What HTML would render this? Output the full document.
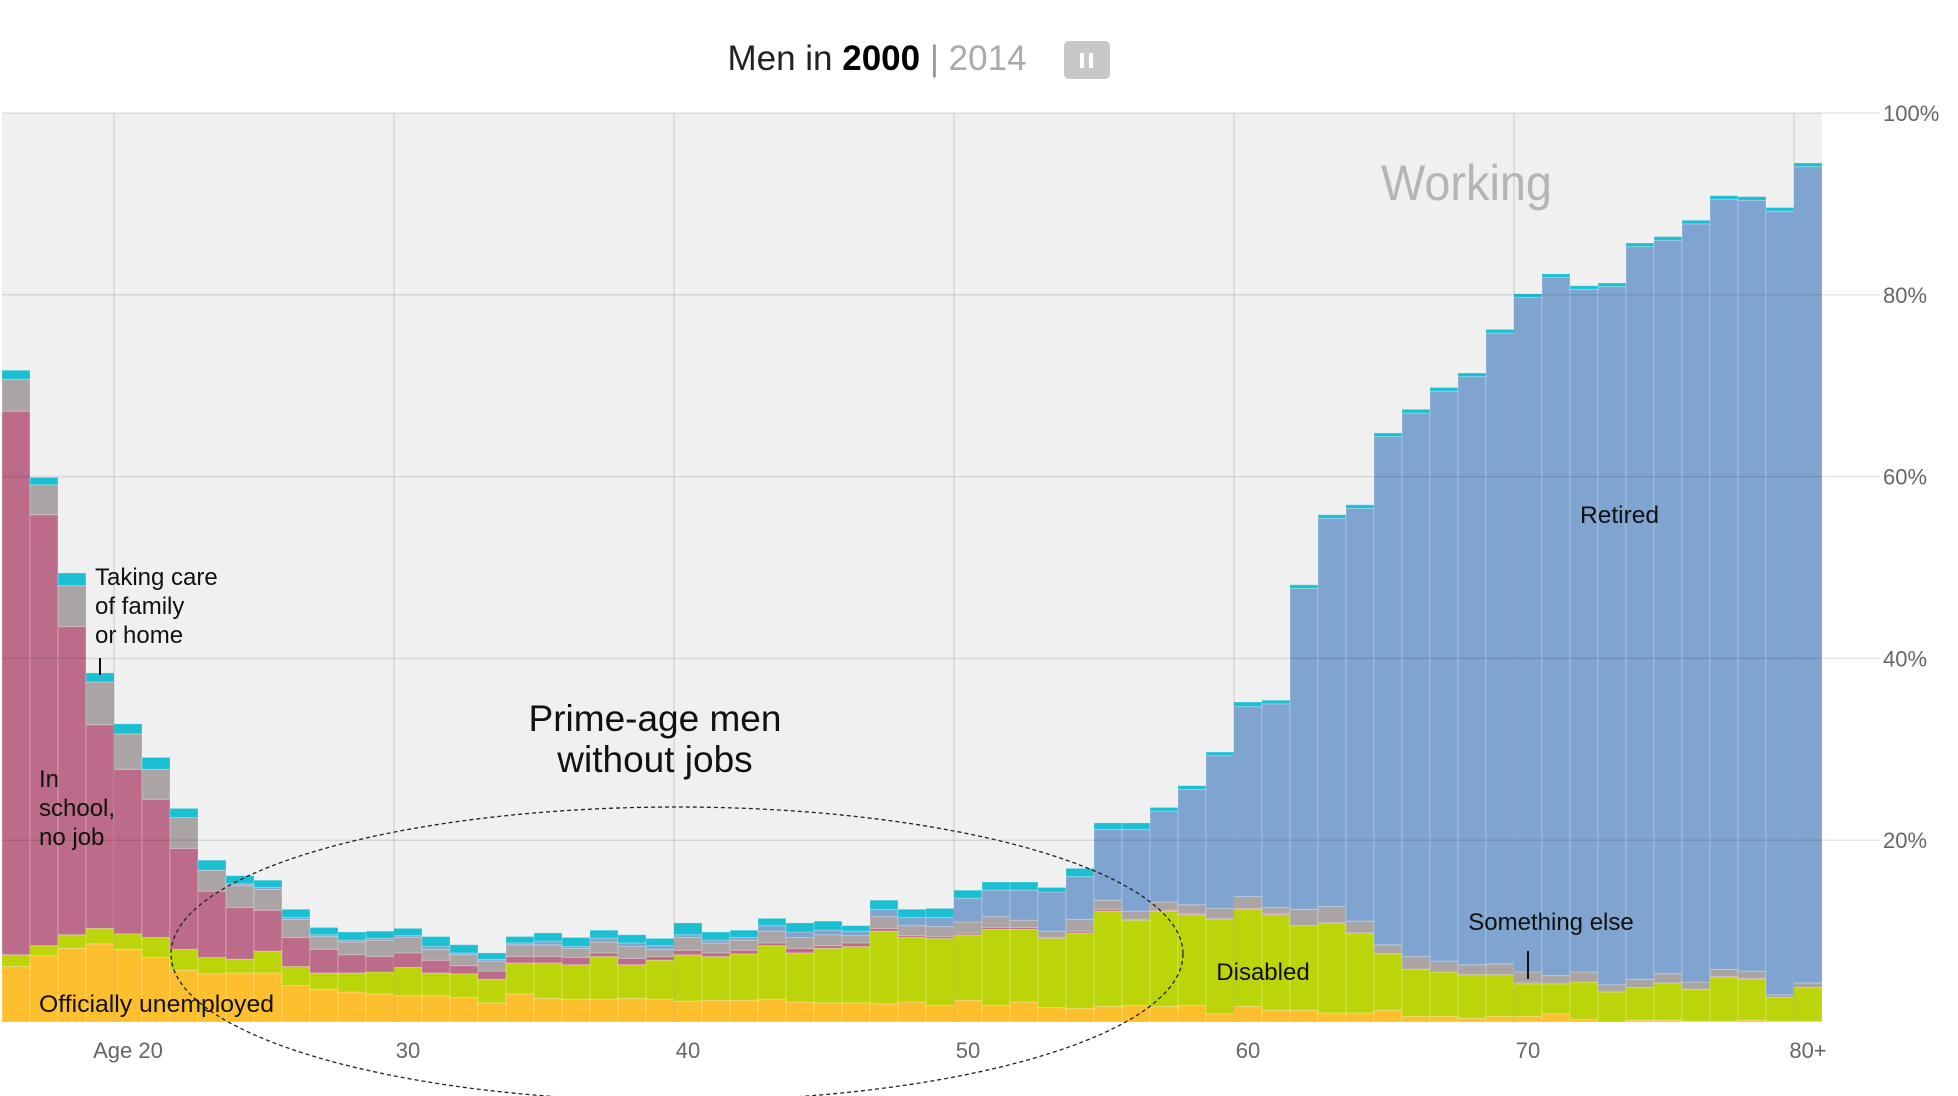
<!DOCTYPE html>
<html><head><meta charset="utf-8"><style>
html,body{margin:0;padding:0;background:#fff;}
svg{display:block;font-family:"Liberation Sans",sans-serif;}
</style></head><body>
<svg id="chart" width="1958" height="1096"></svg>
<script>
const ages=[16,17,18,19,20,21,22,23,24,25,26,27,28,29,30,31,32,33,34,35,36,37,38,39,40,41,42,43,44,45,46,47,48,49,50,51,52,53,54,55,56,57,58,59,60,61,62,63,64,65,66,67,68,69,70,71,72,73,74,75,76,77,78,79,80];
const unemployed=[6.1,7.3,8.1,8.6,8.0,7.1,5.7,5.3,5.4,5.4,4.0,3.6,3.3,3.1,2.9,2.9,2.7,2.1,3.1,2.6,2.5,2.5,2.6,2.5,2.3,2.4,2.4,2.5,2.2,2.1,2.1,2.0,2.2,1.8,2.4,1.8,2.2,1.6,1.5,1.7,1.8,1.7,1.8,0.9,1.7,1.3,1.3,1.0,1.0,1.3,0.6,0.6,0.4,0.6,0.6,0.9,0.3,0,0.2,0.2,0.1,0.1,0.2,0.1,0.1];
const disabled=[1.3,1.1,1.5,1.7,1.7,2.2,2.3,1.8,1.5,2.4,2.1,1.8,2.1,2.4,3.1,2.5,2.6,2.6,3.4,3.9,3.8,4.7,3.7,4.3,5.1,4.8,5.1,5.9,5.4,6.0,6.2,8.0,7.1,7.4,7.2,8.4,8.0,7.6,8.3,10.5,9.4,10.5,10.0,10.4,10.7,10.5,9.3,9.9,8.8,6.2,5.2,4.9,4.8,4.6,3.6,3.3,4.1,3.3,3.6,4.1,3.5,4.8,4.5,2.6,3.7];
const school=[59.8,47.4,33.9,22.4,18.1,15.2,11.1,7.3,5.7,4.5,3.2,2.6,2.0,1.7,1.6,1.4,0.9,0.9,0.7,0.7,0.8,0.4,0.7,0.4,0.5,0.4,0.4,0.3,0.5,0.3,0.4,0.3,0.2,0.2,0.2,0.2,0.2,0.1,0.2,0.2,0.1,0.1,0.1,0.1,0.1,0.1,0,0,0,0,0,0,0,0,0.1,0,0,0.1,0,0,0,0.1,0.1,0,0];
const somethingElse=[3.5,3.3,4.5,4.7,3.9,3.3,3.4,2.3,2.4,2.3,2.0,1.4,1.4,1.8,1.7,1.2,1.2,1.1,1.3,1.3,1.0,1.2,1.3,0.8,1.4,1.1,1.1,1.3,1.2,1.2,0.8,1.3,1.1,1.1,1.2,1.2,0.8,0.7,1.3,1.0,0.9,0.9,1.0,1.1,1.3,0.7,1.8,1.8,1.3,1.0,1.4,1.2,1.1,1.2,1.2,0.9,1.1,0.7,0.9,1.0,0.8,0.8,0.8,0.3,0.5];
const retired=[0,0,0,0,0,0,0,0,0.2,0.2,0.2,0.2,0.2,0.2,0.2,0.3,0.2,0.2,0.2,0.4,0.2,0.4,0.4,0.4,0.3,0.3,0.3,0.6,0.6,0.5,0.5,0.8,0.9,1.0,2.6,2.9,3.3,4.3,4.7,7.8,9.0,10.0,12.7,16.8,20.9,22.4,35.3,42.7,45.4,55.9,59.8,62.7,64.7,69.4,74.2,76.8,75.1,76.8,80.6,80.7,83.4,84.7,84.8,86.2,89.8];
const takingCare=[1.0,0.8,1.4,1.0,1.1,1.3,1.0,1.1,0.9,0.8,0.9,0.8,0.9,0.8,0.8,1.1,0.9,0.7,0.7,0.9,1.0,0.9,0.9,0.8,1.3,0.9,0.8,0.8,1.0,1.0,0.6,1.0,0.9,1.0,0.9,0.9,0.9,0.5,0.9,0.7,0.7,0.4,0.4,0.4,0.5,0.4,0.4,0.4,0.4,0.4,0.4,0.4,0.4,0.4,0.4,0.4,0.4,0.4,0.4,0.4,0.4,0.4,0.4,0.4,0.4];
const yTicks=[20,40,60,80,100];
const yTickLabels=["20%","40%","60%","80%","100%"];
const xTickAges=[20,30,40,50,60,70,80];
const xTickLabels=["Age 20","30","40","50","60","70","80+"];

const NS="http://www.w3.org/2000/svg";
const svg=document.getElementById('chart');
const L=2,R=1822,T=113,B=1022;
const bw=(R-L)/ages.length;
function x(age){return L+(age-ages[0])*bw;}
function y(p){return B-(B-T)*p/100;}
function mk(tag,attrs,parent){const e=document.createElementNS(NS,tag);for(const k in attrs)e.setAttribute(k,attrs[k]);(parent||svg).appendChild(e);return e;}

const bg=mk('rect',{x:L,y:T,width:R-L,height:B-T,fill:'#f0f0f0'});



const series=[
 {name:'unemployed',vals:unemployed,color:'#fdbf2d'},
 {name:'disabled',vals:disabled,color:'#bcd40a'},
 {name:'in-school',vals:school,color:'#bd6b8a'},
 {name:'something-else',vals:somethingElse,color:'#aaa5a4'},
 {name:'retired',vals:retired,color:'#7fa4cf'},
 {name:'taking-care',vals:takingCare,color:'#1bbfd2'}
];
const gBars=mk('g',{});


ages.forEach((a,i)=>{
  let cum=0;
  series.forEach(s=>{
    const v=s.vals[i];
    if(v<=0){return;}
    const r=mk('rect',{x:x(a),y:y(cum+v),width:bw,height:y(cum)-y(cum+v),fill:s.color,stroke:'rgba(255,255,255,0.25)','stroke-width':1},gBars);
    
    
    cum+=v;
  });
});

yTicks.forEach((t,i)=>{
  const ln=mk('line',{x1:L,x2:1880,y1:y(t),y2:y(t),stroke:'rgba(0,0,0,0.1)','stroke-width':1.5});
  
  
  const tx=mk('text',{x:1883,y:y(t)+8,'font-size':22,fill:'#666'});
  tx.textContent=yTickLabels[i];
  
  
});
xTickAges.forEach((a,i)=>{
  const ln=mk('line',{x1:x(a),x2:x(a),y1:T,y2:B,stroke:'rgba(0,0,0,0.1)','stroke-width':1.5});
  
  
  const tx=mk('text',{x:x(a)+bw/2,y:1058,'font-size':22,fill:'#666','text-anchor':'middle'});
  tx.textContent=xTickLabels[i];
  
  
});
</script>
<svg style="position:absolute;left:0;top:0" width="1958" height="1096">
 <g font-family="Liberation Sans, sans-serif">
  <text x="877" y="70" font-size="35" text-anchor="middle" fill="#222">Men in <tspan font-weight="bold" fill="#000">2000</tspan><tspan fill="#999"> | </tspan><tspan fill="#aaa">2014</tspan></text>
  <g>
   <rect x="1064" y="41" width="46" height="38" rx="5" fill="#c8c8c8"/>
   <rect x="1080" y="53" width="4" height="15" fill="#fff"/>
   <rect x="1089" y="53" width="4" height="15" fill="#fff"/>
  </g>
  <text x="1381" y="200" font-size="50" fill="#b5b5b5" textLength="171" lengthAdjust="spacingAndGlyphs">Working</text>
  <text x="1580" y="523" font-size="24" fill="#111" textLength="79" lengthAdjust="spacingAndGlyphs">Retired</text>
  <text font-size="24" fill="#111"><tspan x="95" y="585">Taking care</tspan><tspan x="95" y="614">of family</tspan><tspan x="95" y="643">or home</tspan></text>
  <line x1="100" y1="658" x2="100" y2="675" stroke="#111" stroke-width="2"/>
  <text font-size="24" fill="#111"><tspan x="39" y="787">In</tspan><tspan x="39" y="816">school,</tspan><tspan x="39" y="845">no job</tspan></text>
  <text x="39" y="1012" font-size="24" fill="#111" textLength="235" lengthAdjust="spacingAndGlyphs">Officially unemployed</text>
  <text font-size="37" fill="#111" text-anchor="middle"><tspan x="655" y="731">Prime-age men</tspan><tspan x="655" y="772">without jobs</tspan></text>
  <ellipse cx="677" cy="954" rx="506" ry="147" fill="none" stroke="#222" stroke-width="1.3" stroke-dasharray="4,3"/>
  <text x="1263" y="980" font-size="24" fill="#111" text-anchor="middle">Disabled</text>
  <text x="1551" y="930" font-size="24" fill="#111" text-anchor="middle">Something else</text>
  <line x1="1528" y1="951" x2="1528" y2="979" stroke="#111" stroke-width="2"/>
 </g>
</svg>
</body></html>
